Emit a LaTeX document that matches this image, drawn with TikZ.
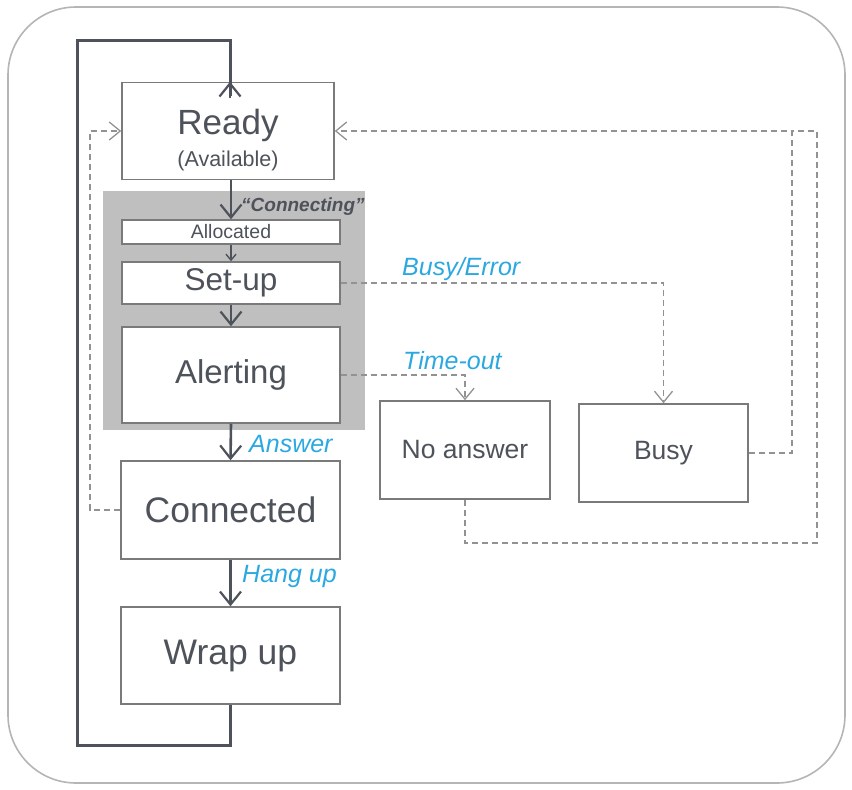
\documentclass[tikz,border=0pt]{standalone}
\usepackage{fontspec}
\setmainfont{Liberation Sans}
\usetikzlibrary{arrows.meta}
\definecolor{txt}{HTML}{4E525A}
\definecolor{brd}{HTML}{7A7A7A}
\definecolor{dsh}{HTML}{929292}
\definecolor{grpc}{HTML}{BFBFBF}
\definecolor{outer}{HTML}{B5B5B5}
\definecolor{lbl}{HTML}{2BA8E0}
\tikzset{
  statebox/.style={draw=brd, line width=1.5pt, fill=white, rectangle, inner sep=0pt, text=txt},
  flow/.style={draw=txt, line width=2.6pt, -{Straight Barb[length=13pt,width=21pt,line width=2.2pt]}},
  smallflow/.style={draw=txt, line width=1.6pt, -{Straight Barb[length=6pt,width=10pt,line width=1.4pt]}},
  loopline/.style={draw=txt, line width=3pt},
  dashflow/.style={draw=dsh, line width=1.4pt, dash pattern=on 6pt off 4pt, -{Straight Barb[length=11pt,width=18pt,line width=1.3pt]}},
  dashline/.style={draw=dsh, line width=1.4pt, dash pattern=on 6pt off 4pt},
  evlabel/.style={text=lbl, font=\fontsize{25}{25}\selectfont\itshape, inner sep=0pt, anchor=west},
}
\begin{document}
\begin{tikzpicture}[x=1pt,y=-1pt]
\useasboundingbox (0,0) rectangle (852,790);
\draw[outer, line width=1.6pt, rounded corners=68pt] (8,7) rectangle (845,783);
% group background
\node[fill=grpc, rectangle, minimum width=262pt, minimum height=239pt, inner sep=0pt] (grp) at (234,310.5) {};
% states
\node[statebox, minimum width=212pt, minimum height=97pt, align=center] (ready) at (228,131)
  {{\fontsize{35}{35}\selectfont \rule{0pt}{44pt}Ready}\\[8pt]{\fontsize{21.5}{21.5}\selectfont (Available)}};
\node[statebox, minimum width=218pt, minimum height=24pt, font=\fontsize{19.5}{19.5}\selectfont] (alloc) at (231,232) {Allocated};
\node[statebox, minimum width=218pt, minimum height=42pt, font=\fontsize{31.5}{31.5}\selectfont] (setup) at (231,283) {Set-up};
\node[statebox, minimum width=218pt, minimum height=96pt, font=\fontsize{33}{33}\selectfont] (alert) at (231,375) {Alerting};
\node[statebox, minimum width=219pt, minimum height=98pt, font=\fontsize{35.5}{35.5}\selectfont] (conn) at (230.5,510) {Connected};
\node[statebox, minimum width=219pt, minimum height=97pt, font=\fontsize{35.5}{35.5}\selectfont] (wrap) at (230.5,655.5) {Wrap up};
\node[statebox, minimum width=170pt, minimum height=98pt, font=\fontsize{26.5}{26.5}\selectfont] (noans) at (465,450) {No answer};
\node[statebox, minimum width=169pt, minimum height=98pt, font=\fontsize{26.5}{26.5}\selectfont] (busy) at (663.5,453) {Busy};
% coordinates
\coordinate (lb) at (77,745);
\coordinate (lt) at (77,40);
\coordinate (cl) at (90,510);
\coordinate (br) at (792,453);
\coordinate (jn) at (792,131);
\coordinate (nb) at (817,543);
% solid flow
\draw[flow] (ready.south -| alloc.north) -- (alloc.north);
\draw[smallflow] (alloc.south) -- (setup.north);
\draw[flow] (setup.south) -- (alert.north);
\draw[flow] (alert.south) -- (conn.north);
\draw[flow] (conn.south) -- (wrap.north);
\draw[loopline, line cap=butt, line join=miter] (wrap.south) |- (lb) -- (lt) -| ([xshift=2pt,yshift=-14pt]ready.north);
\draw[flow] ([xshift=2pt,yshift=-16pt]ready.north) -- ([xshift=2pt]ready.north);
% dashed transitions
\draw[dashflow] (conn.west) -- (cl) |- (ready.west);
\draw[dashflow] (setup.east) -| (busy.north);
\draw[dashflow] (alert.east) -| (noans.north);
\draw[dashflow] (busy.east) -- (br) |- (ready.east);
\draw[dashline] (noans.south) |- (nb) |- (jn);
% labels
\node[text=txt, font=\fontsize{19}{19}\selectfont\bfseries\itshape, inner sep=0pt, anchor=west] (lconn) at (241,207) {“Connecting”};
\node[evlabel] (lbusy) at (402,269) {Busy/Error};
\node[evlabel] (ltime) at (403,361) {Time-out};
\node[evlabel] (lans) at (249,444) {Answer};
\node[evlabel] (lhang) at (242,576) {Hang up};
\end{tikzpicture}
\end{document}
